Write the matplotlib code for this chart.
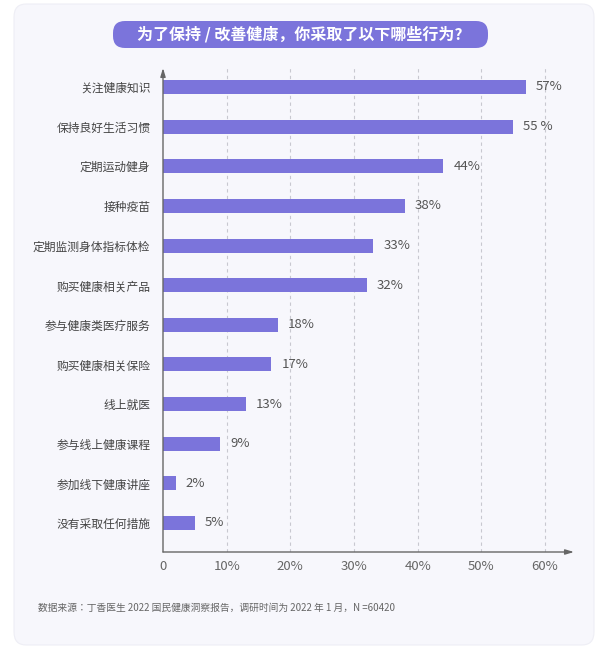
import matplotlib
matplotlib.use("Agg")
import matplotlib.pyplot as plt
from matplotlib.patches import FancyBboxPatch

plt.rcParams["font.family"] = ["Noto Sans CJK SC", "Noto Sans CJK JP", "Noto Sans CJK TC",
                               "Noto Sans CJK KR", "DejaVu Sans"]

categories = ["关注健康知识", "保持良好生活习惯", "定期运动健身", "接种疫苗", "定期监测身体指标体检",
              "购买健康相关产品", "参与健康类医疗服务", "购买健康相关保险", "线上就医",
              "参与线上健康课程", "参加线下健康讲座", "没有采取任何措施"]
values = [57, 55, 44, 38, 33, 32, 18, 17, 13, 9, 2, 5]
value_labels = ["57%", "55 %", "44%", "38%", "33%", "32%", "18%", "17%", "13%", "9%", "2%", "5%"]
xticks = [0, 10, 20, 30, 40, 50, 60]
xtick_labels = ["0", "10%", "20%", "30%", "40%", "50%", "60%"]

W, H = 600, 649
fig = plt.figure(figsize=(W/100, H/100), dpi=100)
fig.patch.set_facecolor("white")
card = FancyBboxPatch((14/W, 4/H), 580/W, 641/H, boxstyle="round,pad=0,rounding_size=0.02",
                      transform=fig.transFigure, facecolor="#f7f7fc", edgecolor="#eeeef5", lw=0.8,
                      zorder=-10)
fig.patches.append(card)
pill = FancyBboxPatch((113/W, (H-48)/H), 375/W, 27/H, boxstyle="round,pad=0,rounding_size=0.02",
                      transform=fig.transFigure, facecolor="#7b74db", edgecolor="none",
                      mutation_aspect=W/H, zorder=-9)
fig.patches.append(pill)
fig.text(300/W, 1-34/H, "为了保持 / 改善健康，你采取了以下哪些行为?", ha="center", va="center",
         color="white", fontsize=11.5, fontweight="bold")

x0, x60 = 163, 545
ppu = (x60-x0)/60
xmax = (574-x0)/ppu
ax = fig.add_axes([x0/W, 1-552/H, (574-x0)/W, (552-68)/H])
ax.set_zorder(5)
ax.set_facecolor("none")
n = len(categories)
step = (523-87)/(n-1)
ax.set_ylim(11 + (552-523)/step, -(87-68)/step)
ax.set_xlim(0, xmax)
ys = list(range(n))
ax.barh(ys, values, height=14/step, color="#7b74db", zorder=3)
for y, v, lab in zip(ys, values, value_labels):
    ax.text(v + 1.6, y, lab, va="center", ha="left", fontsize=9.5, color="#555555")
ax.set_yticks(ys)
ax.set_yticklabels(categories, fontsize=8.5, color="#444444")
ax.set_xticks(xticks)
ax.set_xticklabels(xtick_labels, fontsize=9.5, color="#666666")
ax.tick_params(length=0, pad=6)
ax.tick_params(axis="y", pad=9)
for x in xticks[1:]:
    ax.axvline(x, color="#c8c8d0", lw=0.8, ls=(0, (3, 3)), zorder=1)
for s in ["top", "right", "left", "bottom"]:
    ax.spines[s].set_visible(False)
ax.annotate("", xy=(0, 1.0), xytext=(0, 0), xycoords="axes fraction",
            arrowprops=dict(arrowstyle="-|>,head_length=0.5,head_width=0.15", color="#666666", lw=1,
                            shrinkA=0, shrinkB=0))
ax.annotate("", xy=(1.0, 0), xytext=(0, 0), xycoords="axes fraction",
            arrowprops=dict(arrowstyle="-|>,head_length=0.5,head_width=0.15", color="#666666", lw=1,
                            shrinkA=0, shrinkB=0))
fig.text(38/W, 1-608/H, "数据来源：丁香医生 2022 国民健康洞察报告，调研时间为 2022 年 1 月，N =60420",
         fontsize=7, color="#666666", va="center")
fig.savefig("out.png", dpi=100, facecolor="white")
